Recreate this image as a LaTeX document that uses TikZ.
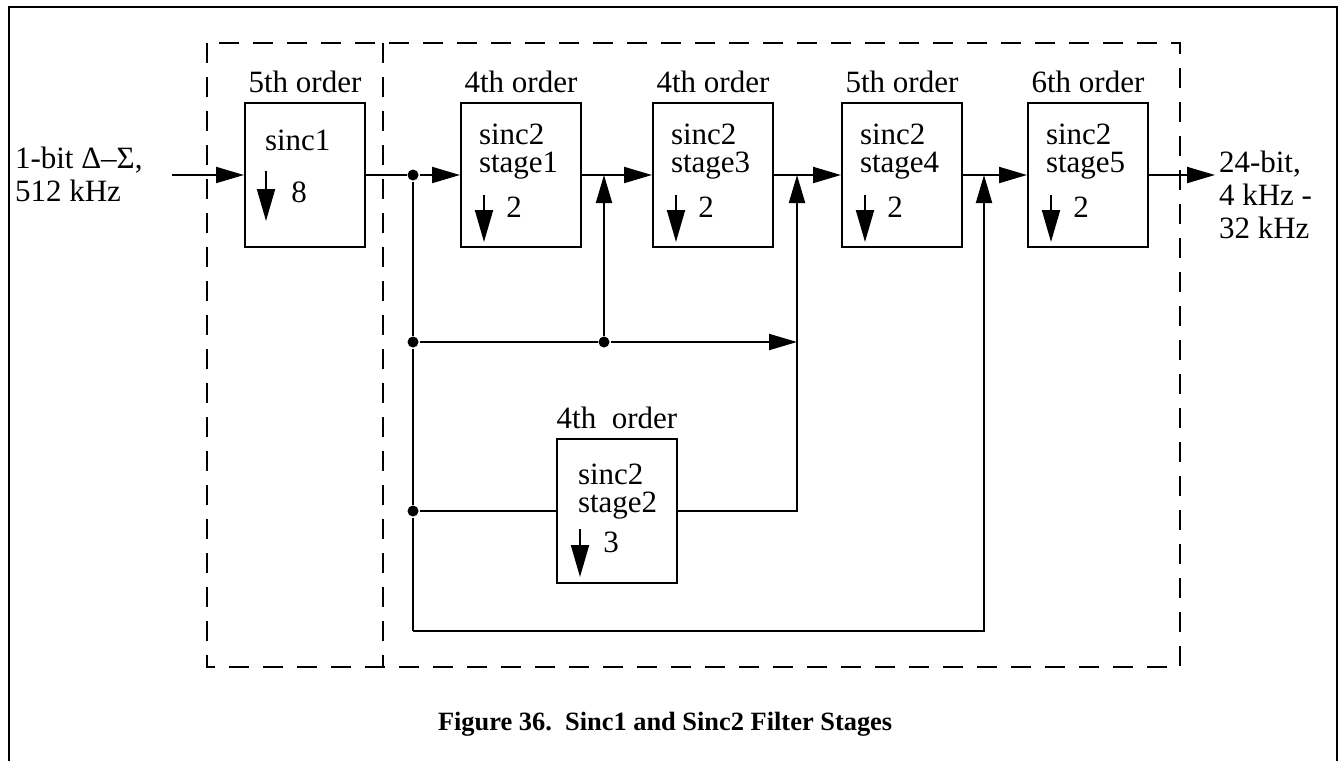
\documentclass[tikz,border=0pt]{standalone}
\usepackage{fontspec}
\setmainfont{Liberation Serif}
\usetikzlibrary{arrows.meta,positioning}

\tikzset{
  blk/.style={draw, minimum width=60pt, minimum height=72pt, inner sep=0pt},
  lbl/.style={inner sep=1pt, font=\fontsize{15.5}{16}\selectfont},
  intxt/.style={inner sep=0pt, align=left, font=\fontsize{15.5}{14}\selectfont},
  io/.style={inner sep=0pt, align=left, font=\fontsize{15.5}{16.5}\selectfont},
  captxt/.style={inner sep=0pt, font=\fontsize{13.2}{16}\selectfont\bfseries},
  grp/.style={dash pattern=on 10pt off 7pt},
  dot/.style={circle, fill, inner sep=0pt, minimum size=5.5pt},
  dn/.style={-{Triangle[length=16pt,width=9pt]}}
}

\begin{document}
\begin{tikzpicture}[x=0.5pt,y=-0.5pt,line width=1pt,>={Triangle[length=14pt,width=8pt]}]
\useasboundingbox (0,0) rectangle (1338,761);
\draw (9,761) -- (9,7) -- (1337,7) -- (1337,761);
\draw[grp] (207,43) rectangle (1180,667);
\draw[grp] (383,43) -- (383,667);

\node[blk] (s1) at (305,175) {};
\node[lbl, above=3pt of s1] (s1-o) {5th order};
\node[intxt, anchor=north west] (s1-t) at ([shift={(20,27)}]s1.north west) {sinc1};
\draw[dn] ([shift={(22,69)}]s1.north west) -- ++(0,50);
\node[intxt] (s1-n) at ([shift={(55,90)}]s1.north west) {8};

\foreach \n/\x/\o/\t in {st1/521/4th/stage1, st3/713/4th/stage3, st4/902/5th/stage4, st5/1088/6th/stage5}{
\node[blk] (\n) at (\x,175) {};
\node[lbl, above=3pt of \n] (\n-o) {\o\ order};
\node[intxt, anchor=north west] (\n-t) at ([shift={(18,21)}]\n.north west) {sinc2\\\t};
\draw[dn] ([shift={(24,93)}]\n.north west) -- ++(0,47);
\node[intxt] (\n-n) at ([shift={(54,105)}]\n.north west) {2};
}

\node[blk] (st2) at (617,511) {};
\node[lbl, above=3pt of st2] (st2-o) {4th\ \ order};
\node[intxt, anchor=north west] (st2-t) at ([shift={(21,25)}]st2.north west) {sinc2\\stage2};
\draw[dn] ([shift={(24,91)}]st2.north west) -- ++(0,48);
\node[intxt] (st2-n) at ([shift={(55,104)}]st2.north west) {3};

\node[io, anchor=west] (in) at (14,174) {1-bit Δ–Σ,\\512 kHz};
\node[io, anchor=west] (out) at (1218,195) {24-bit,\\4 kHz -\\32 kHz};
\coordinate (inc) at (172,175);
\coordinate (outc) at (1215,175);

\node[dot] (d0) at (413,175) {};
\node[dot] (d1) at (413,342) {};
\node[dot] (d2) at (604,342) {};
\node[dot] (d3) at (413,511) {};
\coordinate (j1) at (604,175);
\coordinate (j2) at (797,175);
\coordinate (j3) at (984,175);
\coordinate (c2) at (797,342);
\coordinate (bl) at (413,631);

\draw[->] (inc) -- (s1);
\draw (s1) -- (d0);
\draw[->] (d0) -- (st1);
\draw[->] (st1) -- (st3);
\draw[->] (st3) -- (st4);
\draw[->] (st4) -- (st5);
\draw[->] (st5) -- (outc);
\draw (d0) -- (d1) -- (d3) -- (bl);
\draw (d1) -- (d2);
\draw[->] (d2) -- (j1);
\draw[->] (d2) -- (c2);
\draw (d3) -- (st2);
\draw[->] (st2) -| (j2);
\draw[->] (bl) -| (j3);

\node[captxt, anchor=west] (caption) at (437,724) {Figure 36.\ \ Sinc1 and Sinc2 Filter Stages};
\end{tikzpicture}
\end{document}
